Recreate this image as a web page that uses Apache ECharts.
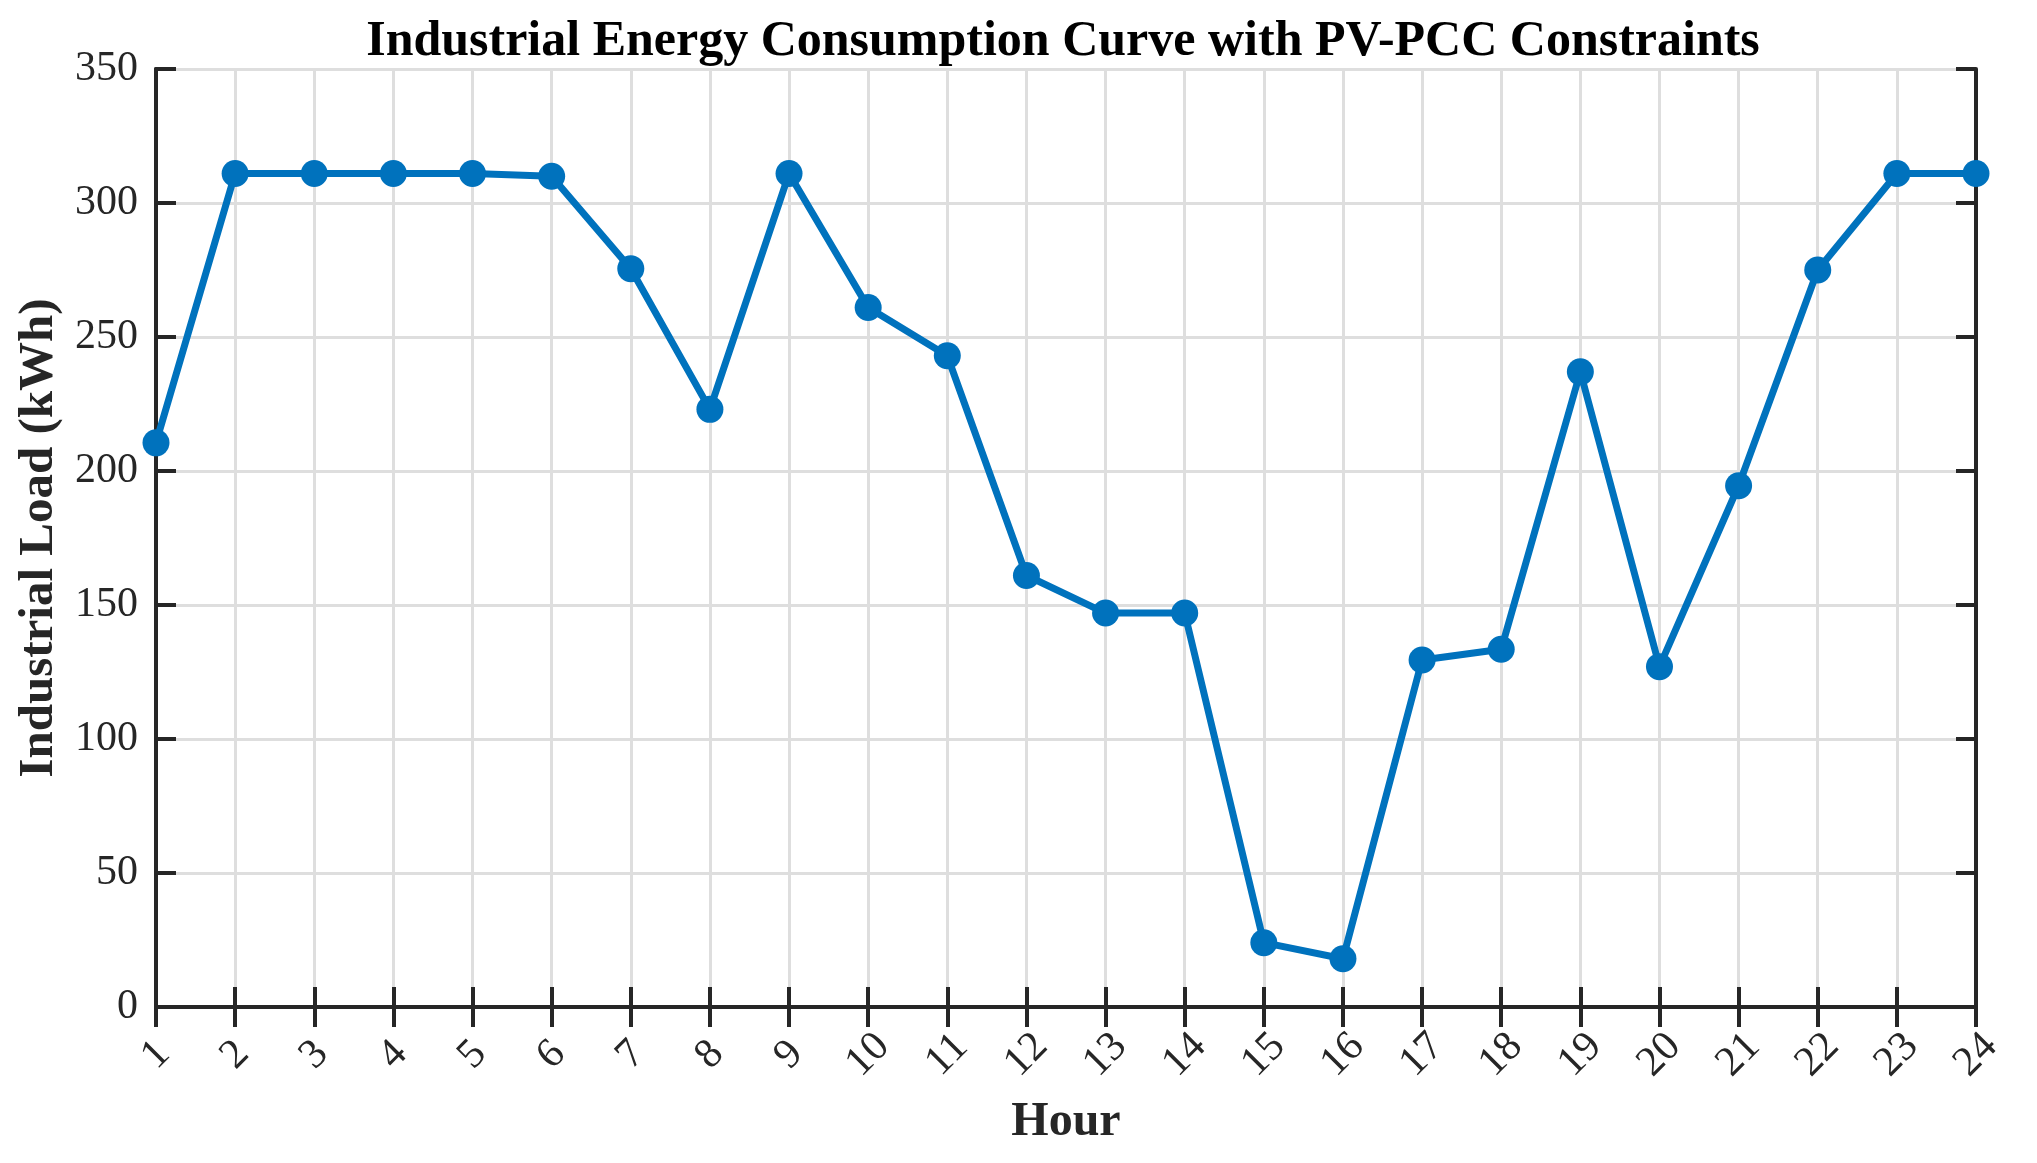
<!DOCTYPE html>
<html>
<head>
<meta charset="utf-8">
<script src="https://cdn.jsdelivr.net/npm/echarts@6/dist/echarts.min.js"></script>
<style>
html,body{margin:0;padding:0;background:#fff;}
#main{width:2037px;height:1163px;}
</style>
</head>
<body>
<div id="main"></div>
<script>
// hours and load
var hours = ['1','2','3','4','5','6','7','8','9','10','11','12','13','14','15','16','17','18','19','20','21','22','23','24'];
var industrialLoad = [210.5, 311, 311, 311, 311, 310, 275.5, 223, 311, 261, 243, 161, 147, 147, 24, 18, 129.5, 133.5, 237, 127, 194.5, 275, 311, 311];
var yTicks = [0, 50, 100, 150, 200, 250, 300, 350];

var fontFam = '"Liberation Serif", "Times New Roman", serif';
var axisColor = '#262626';
var gridColor = '#dedede';

var chart = echarts.init(document.getElementById('main'));

function boxLine() {
    return {show: true, lineStyle: {color: axisColor, width: 4}};
}
function inTick() {
    return {show: true, inside: true, length: 20, interval: 0, lineStyle: {color: axisColor, width: 4}};
}

// plain x axis with no labels, only the box line and ticks pointing in
function bareX(pos) {
    return {
        type: 'category', data: hours, boundaryGap: false, position: pos, offset: 0,
        axisLine: boxLine(), axisTick: inTick(),
        axisLabel: {show: false}, splitLine: {show: false}
    };
}
function bareY(pos) {
    return {
        type: 'value', min: yTicks[0], max: yTicks[yTicks.length - 1], interval: 50,
        position: pos, offset: 0,
        axisLine: boxLine(), axisTick: inTick(),
        axisLabel: {show: false}, splitLine: {show: false}
    };
}

var option = {
    backgroundColor: '#fff',
    animation: false,
    title: {
        text: 'Industrial Energy Consumption Curve with PV-PCC Constraints',
        left: 1058,
        top: 12,
        textAlign: 'center',
        textStyle: {fontFamily: fontFam, fontSize: 50, fontWeight: 'bold', color: '#000'}
    },
    grid: {left: 156, right: 61, top: 69, bottom: 156, containLabel: false},
    xAxis: [
        {
            type: 'category',
            data: hours,
            boundaryGap: false,
            position: 'bottom',
            name: 'Hour',
            nameLocation: 'middle',
            nameGap: 92,
            nameTextStyle: {fontFamily: fontFam, fontSize: 48, fontWeight: 'bold', color: axisColor},
            axisLine: boxLine(),
            axisTick: {show: false},
            axisLabel: {
                interval: 0, rotate: 45, margin: 48,
                align: 'center', verticalAlign: 'middle',
                fontFamily: fontFam, fontSize: 42, color: axisColor
            },
            splitLine: {show: true, interval: 0, lineStyle: {color: gridColor, width: 3}}
        },
        bareX('top'),
        bareX('bottom')
    ],
    yAxis: [
        {
            type: 'value',
            min: yTicks[0],
            max: yTicks[yTicks.length - 1],
            interval: 50,
            position: 'left',
            name: 'Industrial Load (kWh)',
            nameLocation: 'middle',
            nameGap: 92,
            nameTextStyle: {fontFamily: fontFam, fontSize: 49, fontWeight: 'bold', color: axisColor},
            axisLine: boxLine(),
            axisTick: {show: false},
            axisLabel: {margin: 18, fontFamily: fontFam, fontSize: 42, color: axisColor},
            splitLine: {show: true, lineStyle: {color: gridColor, width: 3}}
        },
        bareY('right'),
        bareY('left')
    ],
    series: [
        {
            name: 'Industrial Load',
            type: 'line',
            data: industrialLoad,
            xAxisIndex: 0,
            yAxisIndex: 0,
            clip: false,
            symbol: 'circle',
            symbolSize: 27,
            z: 5,
            itemStyle: {color: '#0072BD'},
            lineStyle: {color: '#0072BD', width: 7}
        }
    ]
};
chart.setOption(option);
</script>
</body>
</html>
